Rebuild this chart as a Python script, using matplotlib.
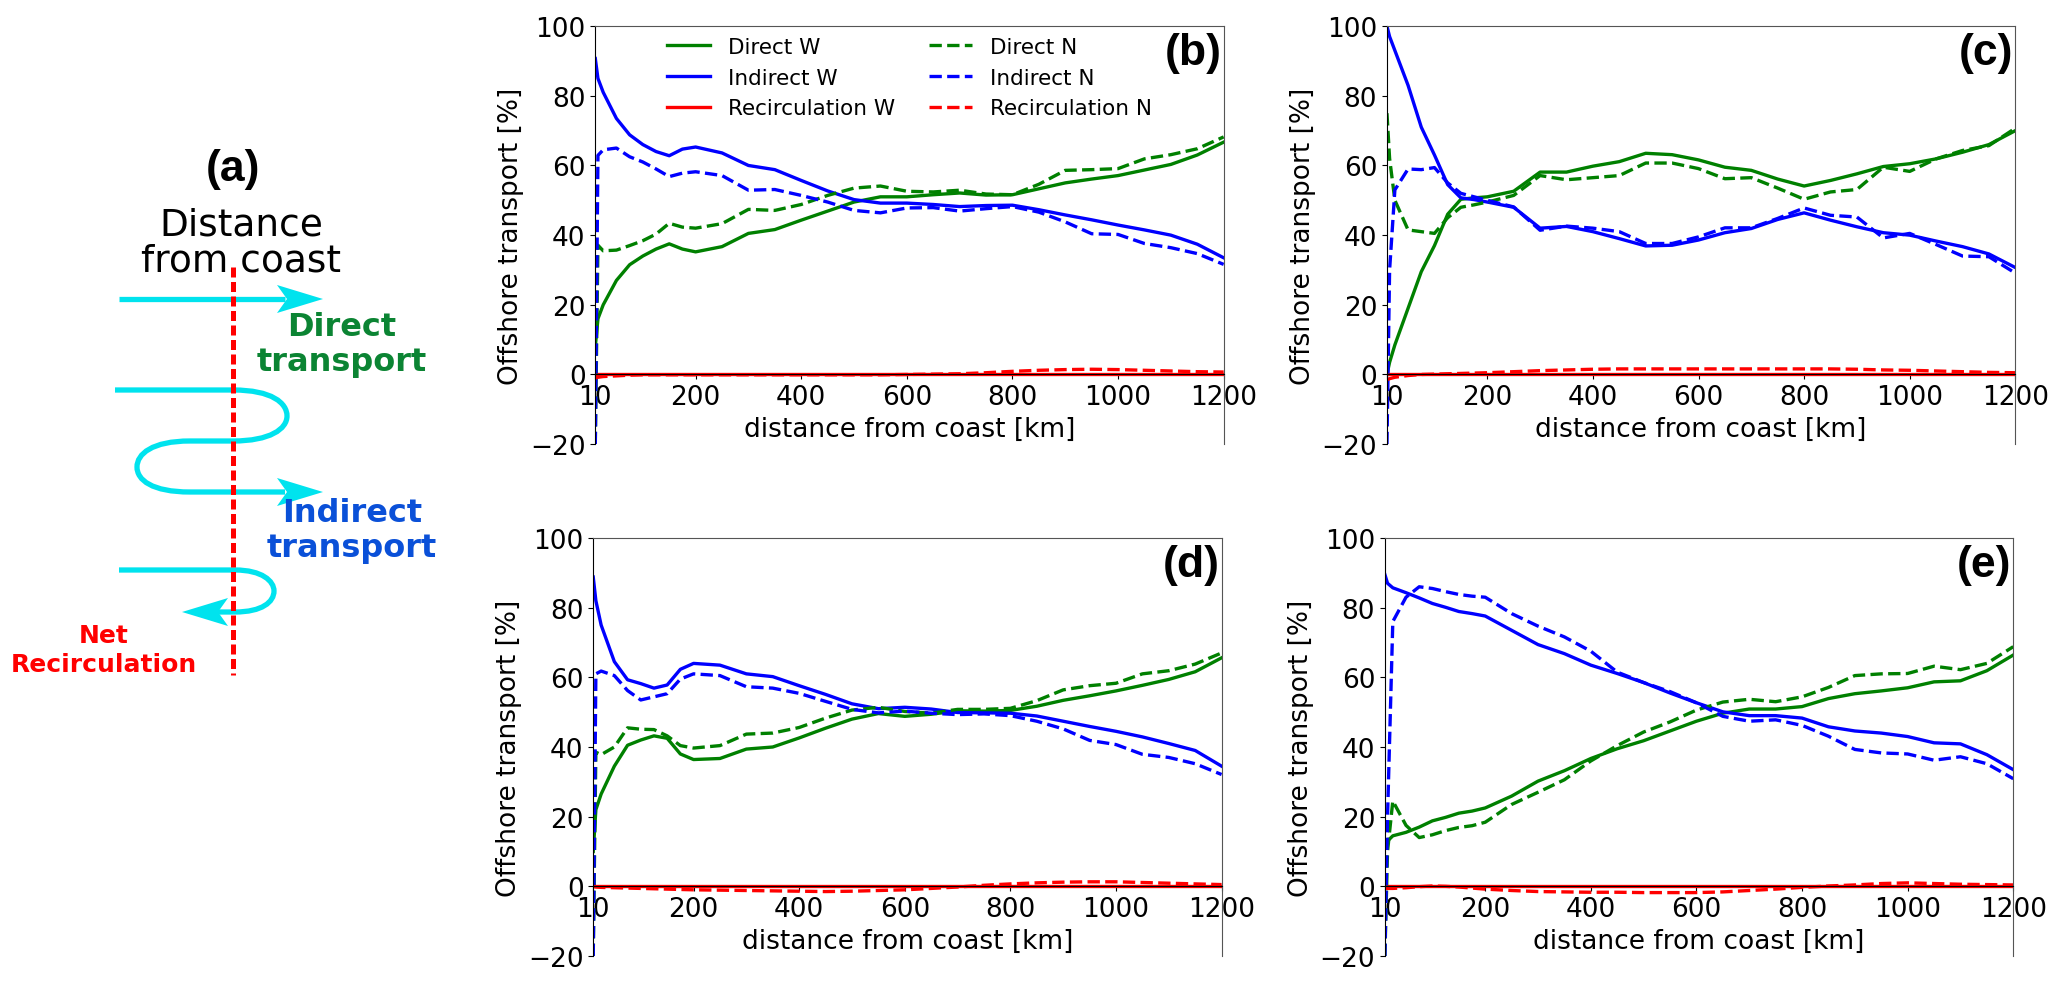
import matplotlib
matplotlib.use('Agg')
import matplotlib.pyplot as plt
from matplotlib.path import Path
from matplotlib.patches import PathPatch, Polygon

plt.rcParams['font.family'] = 'DejaVu Sans'
plt.rcParams['font.size'] = 19

# distance from coast [km]
dist = [10, 15, 25, 50, 75, 100, 125, 150, 175, 200, 250, 300, 350, 400, 450,
        500, 550, 600, 650, 700, 750, 800, 850, 900, 950, 1000, 1050, 1100, 1150, 1200]
xticks = [10, 200, 400, 600, 800, 1000, 1200]
yticks = [-20, 0, 20, 40, 60, 80, 100]

# panel (b)
b_direct_w = [8, 16, 20, 27, 31.5, 34, 36, 37.5, 36, 35.2, 36.7, 40.5, 41.6, 44.3, 46.9,
              49.5, 51, 51, 51.6, 52.1, 51.5, 51.6, 53.3, 55, 56.1, 57.1, 58.7, 60.3, 63, 66.7]
b_indirect_w = [90.7, 85, 81, 73.5, 68.8, 66, 64, 62.8, 64.7, 65.3, 63.6, 60, 58.8, 55.7, 52.7,
                50.2, 49.2, 49.2, 48.8, 48.2, 48.5, 48.6, 47.3, 45.8, 44.4, 42.9, 41.5, 40, 37.4, 33.5]
b_direct_n = [-20, 37.1, 35.5, 35.7, 37, 38.4, 40.3, 43.4, 42.3, 42, 43.3, 47.4, 47.1, 48.8, 51.4,
              53.5, 54.1, 52.6, 52.4, 52.9, 51.8, 51.6, 54.6, 58.6, 58.8, 59.1, 61.9, 63.1, 64.8, 68.2]
b_indirect_n = [-20, 62.9, 64.5, 65, 62.5, 61, 59, 56.8, 57.8, 58.2, 57.1, 52.9, 53.1, 51.4, 49.5,
                47.1, 46.4, 47.8, 47.9, 46.9, 47.6, 48.2, 46.6, 43.8, 40.4, 40.2, 37.6, 36.4, 34.7, 31.6]
b_recirc_n = [-1, -0.8, -0.6, -0.4, -0.2, -0.1, -0.1, -0.1, -0.1, -0.1, -0.1, -0.1, -0.1, -0.1, -0.1,
              -0.1, -0.1, 0, 0.1, 0.2, 0.5, 0.9, 1.2, 1.4, 1.5, 1.4, 1.2, 1, 0.8, 0.7]

# panel (c)
c_direct_w = [0, 3.5, 8.5, 19, 29.5, 37, 46, 50.3, 50.7, 51, 52.6, 58.1, 58.1, 59.8, 61.1,
              63.5, 63.1, 61.6, 59.5, 58.6, 56.1, 54.1, 55.7, 57.6, 59.7, 60.5, 61.9, 63.8, 66, 70]
c_indirect_w = [100, 97, 93, 83, 71, 63, 54.5, 50.7, 50.2, 49.5, 48, 42, 42.5, 41, 39,
                36.9, 37.1, 38.6, 40.7, 41.9, 44.5, 46.4, 44.3, 42.4, 40.7, 40, 38.3, 36.7, 34.6, 30.7]
c_direct_n = [75, 62, 50, 41.5, 41, 40.5, 45, 48, 48.7, 49.5, 51.4, 57.1, 55.9, 56.5, 57.1,
              60.7, 60.7, 59.1, 56.2, 56.5, 53.5, 50.3, 52.4, 53.1, 59.5, 58.3, 61.9, 64.3, 65.7, 70.7]
c_indirect_n = [-20, 30, 53, 59, 58.8, 59.4, 55, 52, 51, 50, 48.1, 41.4, 42.6, 42, 41,
                37.6, 37.6, 39.5, 42.1, 42.1, 44.8, 47.8, 45.7, 45.2, 39.2, 40.5, 37.3, 34, 33.8, 29.1]
c_recirc_n = [-1.5, -1.2, -0.8, -0.3, 0, 0.1, 0.2, 0.3, 0.4, 0.5, 0.8, 1.1, 1.3, 1.5, 1.6,
              1.6, 1.6, 1.6, 1.6, 1.6, 1.6, 1.6, 1.6, 1.5, 1.3, 1.2, 1, 0.8, 0.6, 0.5]

# panel (d)
d_direct_w = [10, 22, 26.5, 34.5, 40.5, 42, 43.2, 42.5, 38, 36.4, 36.7, 39.4, 40, 42.6, 45.4,
              48, 49.6, 48.8, 49.4, 50.4, 50.3, 50.5, 51.7, 53.4, 54.7, 56.1, 57.7, 59.4, 61.6, 65.6]
d_indirect_w = [88.8, 82, 75, 64.5, 59.3, 58.2, 56.9, 57.8, 62.3, 64, 63.5, 61, 60.2, 57.6, 55.1,
                52.4, 51, 51.4, 50.9, 49.9, 49.8, 49.7, 48.9, 47.4, 45.9, 44.5, 42.9, 41, 39, 34.5]
d_direct_n = [-20, 38.5, 37.8, 40, 45.5, 45.1, 45, 43.2, 40.4, 39.7, 40.4, 43.7, 44, 45.6, 48.3,
              50.6, 51.4, 50.2, 49.7, 50.8, 50.8, 51.1, 53.3, 56.4, 57.6, 58.3, 61, 61.9, 63.8, 67]
d_indirect_n = [-20, 61, 61.8, 60.5, 56.2, 53.5, 54.4, 55.3, 59.5, 61, 60.5, 57.3, 56.9, 55.4, 53.1,
                50.8, 49.8, 50.3, 49.7, 49.3, 49.5, 49, 47.4, 45.2, 41.9, 40.7, 37.9, 37, 35.2, 32.1]
d_recirc_n = [0, -0.2, -0.3, -0.4, -0.5, -0.6, -0.7, -0.8, -0.9, -1, -1.1, -1.2, -1.3, -1.4, -1.5,
              -1.4, -1.2, -1, -0.6, -0.2, 0.3, 0.7, 1, 1.2, 1.3, 1.3, 1.1, 0.9, 0.7, 0.5]

# panel (e)
e_direct_w = [11.6, 13, 14.5, 15.5, 17, 18.8, 19.8, 21, 21.6, 22.5, 25.9, 30.2, 33.2, 36.7, 39.5,
              41.8, 44.6, 47.4, 49.7, 50.9, 50.9, 51.6, 53.9, 55.3, 56.1, 57, 58.7, 59, 61.9, 66.4]
e_indirect_w = [89.5, 87, 85.7, 84.3, 82.8, 81.2, 80.1, 78.9, 78.3, 77.6, 73.5, 69.4, 66.8, 63.5, 61.1,
                58.5, 55.5, 52.7, 50.1, 49, 49, 48.3, 45.8, 44.6, 44, 43, 41.2, 40.9, 37.8, 33.5]
e_direct_n = [-20, 10, 24.5, 17.5, 14, 14.8, 16, 16.9, 17.4, 18.4, 23.5, 27, 30.6, 36, 40.4,
              44.3, 47.2, 50.6, 52.9, 53.7, 53, 54.4, 57.1, 60.5, 61, 61.1, 63.2, 62.2, 64, 68.8]
e_indirect_n = [-20, 20, 76, 83, 86, 85.5, 84.6, 83.8, 83.3, 83, 78.3, 74.7, 71.6, 67.5, 61.5,
                58.5, 55.9, 52.7, 48.8, 47.4, 47.8, 46.2, 43.1, 39.3, 38.3, 38, 36.2, 37.2, 35.2, 30.9]
e_recirc_n = [-0.5, -0.6, -0.6, -0.4, -0.1, 0.1, 0, -0.2, -0.5, -0.8, -1.2, -1.5, -1.6, -1.7, -1.7,
              -1.8, -1.8, -1.8, -1.6, -1.2, -0.8, -0.3, 0.1, 0.4, 0.8, 1, 0.8, 0.6, 0.5, 0.4]

recirc_w = [0] * len(dist)

fig = plt.figure(figsize=(20.67, 9.87), dpi=100)


def panel(rect, dw, iw, dn, inn, rn, tag, legend=False):
    ax = fig.add_axes(rect)
    ax.plot(dist, dw, color='green', lw=2.4, label='Direct W')
    ax.plot(dist, iw, color='blue', lw=2.4, label='Indirect W')
    ax.plot(dist, recirc_w, color='red', lw=2.4, label='Recirculation W')
    ax.plot(dist, dn, color='green', lw=2.4, ls='--', label='Direct N')
    ax.plot(dist, inn, color='blue', lw=2.4, ls='--', label='Indirect N')
    ax.plot(dist, rn, color='red', lw=2.4, ls='--', label='Recirculation N')
    ax.set_xlim(10, 1200)
    ax.set_ylim(-20, 100)
    ax.set_xticks(xticks)
    ax.set_yticks(yticks)
    ax.spines['bottom'].set_position(('data', 0))
    for s in ['top', 'right']:
        ax.spines[s].set_color('#555555')
    ax.tick_params(labelsize=19)
    ax.set_xlabel('distance from coast [km]', fontsize=19)
    ax.set_ylabel('Offshore transport [%]', fontsize=19)
    ax.text(0.997, 0.985, tag, transform=ax.transAxes, ha='right', va='top',
            fontsize=32, fontweight='bold', family='Liberation Sans')
    if legend:
        ax.legend(loc='upper center', ncol=2, frameon=False, fontsize=15.5,
                  borderaxespad=0.1, columnspacing=1.6)
    return ax


panel([0.288, 0.549, 0.304, 0.4235], b_direct_w, b_indirect_w, b_direct_n, b_indirect_n,
      b_recirc_n, '(b)', legend=True)
panel([0.671, 0.549, 0.304, 0.4235], c_direct_w, c_indirect_w, c_direct_n, c_indirect_n,
      c_recirc_n, '(c)')
panel([0.287, 0.0304, 0.304, 0.4235], d_direct_w, d_indirect_w, d_direct_n, d_indirect_n,
      d_recirc_n, '(d)')
panel([0.670, 0.0304, 0.304, 0.4235], e_direct_w, e_indirect_w, e_direct_n, e_indirect_n,
      e_recirc_n, '(e)')

# panel (a): schematic, drawn in pixel units
axa = fig.add_axes([0, 0, 460 / 2067, 1])
axa.set_xlim(0, 460)
axa.set_ylim(987, 0)
axa.axis('off')
cyan = '#00e3ee'

axa.text(233, 170, '(a)', ha='center', va='center', fontsize=32, fontweight='bold',
         family='Liberation Sans')
axa.text(241, 225, 'Distance', ha='center', va='center', fontsize=27)
axa.text(241, 262, 'from coast', ha='center', va='center', fontsize=27)

axa.plot([233, 233], [268, 676], color='red', lw=3.6, ls=(0, (2, 0.9)), zorder=3)


def head(tip, y, d):
    # arrow head, d = +1 right, -1 left
    return Polygon([(tip, y), (tip - d * 46, y - 14), (tip - d * 36, y), (tip - d * 46, y + 14)],
                   closed=True, color=cyan, lw=0, zorder=2)


# direct arrow
axa.plot([119, 285], [300, 300], color=cyan, lw=3.8, solid_capstyle='butt', zorder=2)
axa.add_patch(head(323, 300, 1))

# indirect (S shaped) arrow
verts = [(115, 391), (233, 391),
         (272, 391), (287, 404), (287, 417),
         (287, 430), (270, 442), (233, 442),
         (190, 442),
         (152, 442), (137, 455), (137, 468),
         (137, 481), (152, 493), (190, 493),
         (285, 493)]
codes = [Path.MOVETO, Path.LINETO,
         Path.CURVE4, Path.CURVE4, Path.CURVE4,
         Path.CURVE4, Path.CURVE4, Path.CURVE4,
         Path.LINETO,
         Path.CURVE4, Path.CURVE4, Path.CURVE4,
         Path.CURVE4, Path.CURVE4, Path.CURVE4,
         Path.LINETO]
axa.add_patch(PathPatch(Path(verts, codes), fill=False, edgecolor=cyan, lw=3.8, zorder=2))
axa.add_patch(head(323, 493, 1))

# net recirculation arrow
verts = [(119, 571), (235, 571),
         (262, 571), (274, 582), (274, 592),
         (274, 603), (262, 613), (235, 613),
         (215, 613)]
codes = [Path.MOVETO, Path.LINETO,
         Path.CURVE4, Path.CURVE4, Path.CURVE4,
         Path.CURVE4, Path.CURVE4, Path.CURVE4,
         Path.LINETO]
axa.add_patch(PathPatch(Path(verts, codes), fill=False, edgecolor=cyan, lw=3.8, zorder=2))
axa.add_patch(head(182, 613, -1))

axa.text(342, 327, 'Direct', ha='center', va='center', fontsize=23, fontweight='bold',
         color='#0b8433')
axa.text(342, 363, 'transport', ha='center', va='center', fontsize=23, fontweight='bold',
         color='#0b8433')
axa.text(352, 513, 'Indirect', ha='center', va='center', fontsize=23, fontweight='bold',
         color='#0a50d8')
axa.text(352, 549, 'transport', ha='center', va='center', fontsize=23, fontweight='bold',
         color='#0a50d8')
axa.text(104, 636, 'Net', ha='center', va='center', fontsize=18, fontweight='bold',
         color='#ff0000')
axa.text(104, 665, 'Recirculation', ha='center', va='center', fontsize=18, fontweight='bold',
         color='#ff0000')

fig.savefig('out.png', dpi=100)
